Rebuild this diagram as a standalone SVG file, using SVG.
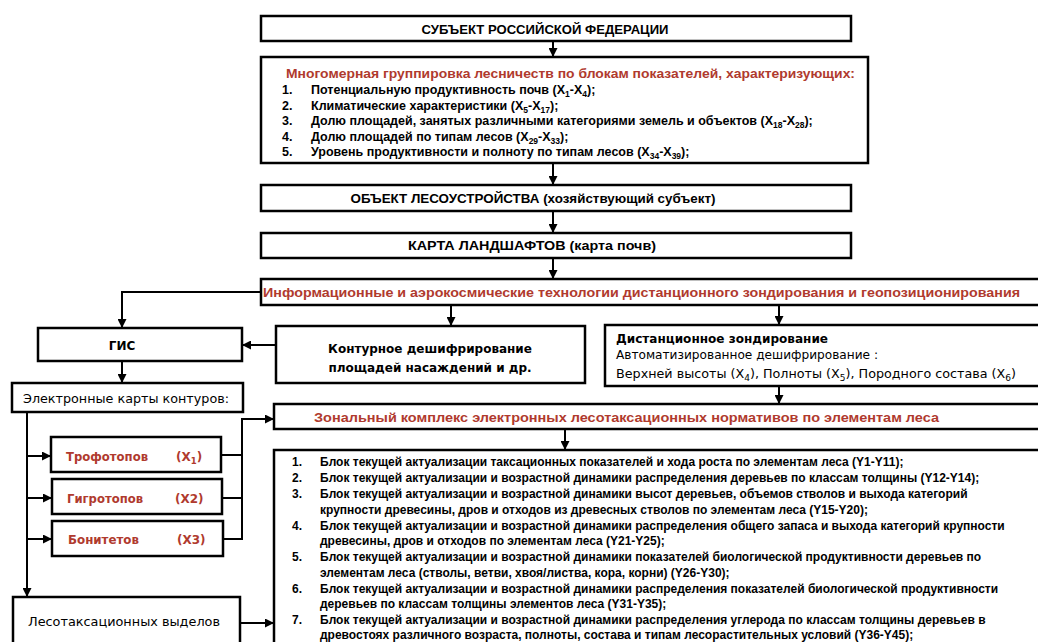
<svg xmlns="http://www.w3.org/2000/svg" width="1038" height="642" viewBox="0 0 1038 642">
<style>
.box{fill:#fff;stroke:#000;stroke-width:2.5}
.ln{fill:none;stroke:#000;stroke-width:2;marker-end:url(#ah)}
.pl{fill:none;stroke:#000;stroke-width:2}
.hb{font-family:"Liberation Sans",Arial,sans-serif;font-weight:bold;fill:#000}
.v{font-family:"DejaVu Sans",Verdana,sans-serif;fill:#000}
.vb{font-family:"DejaVu Sans",Verdana,sans-serif;font-weight:bold;fill:#000}
.it{font-family:"Liberation Sans",Arial,sans-serif;font-weight:bold;font-size:12.5px;fill:#000}
.yl{font-family:"Liberation Sans",Arial,sans-serif;font-weight:bold;font-size:12px;fill:#000}
text.red{fill:#b03a2e}
</style>
<defs>
<marker id="ah" viewBox="0 0 10 10" refX="10" refY="5" markerWidth="9" markerHeight="9" markerUnits="userSpaceOnUse" orient="auto"><path d="M0,0 L10,5 L0,10 z" fill="#000"/></marker>
</defs>
<rect width="1038" height="642" fill="#fff"/>

<g id="subject">
<rect class="box" x="261" y="16" width="590" height="25"/>
<text class="hb" x="545" y="34" font-size="13" text-anchor="middle" textLength="247" lengthAdjust="spacingAndGlyphs">СУБЪЕКТ РОССИЙСКОЙ ФЕДЕРАЦИИ</text>
</g>

<g id="grouping">
<rect class="box" x="261" y="57" width="607" height="106"/>
<text class="hb red" x="286" y="78" font-size="13.5" textLength="569" lengthAdjust="spacingAndGlyphs">Многомерная группировка лесничеств по блокам показателей, характеризующих:</text>
<text class="it" x="282" y="94">1.</text>
<text class="it" x="311" y="94">Потенциальную продуктивность почв (X<tspan dy="3" font-size="8.5">1</tspan><tspan dy="-3">-X</tspan><tspan dy="3" font-size="8.5">4</tspan><tspan dy="-3">);</tspan></text>
<text class="it" x="282" y="109.5">2.</text>
<text class="it" x="311" y="109.5">Климатические характеристики (X<tspan dy="3" font-size="8.5">5</tspan><tspan dy="-3">-X</tspan><tspan dy="3" font-size="8.5">17</tspan><tspan dy="-3">);</tspan></text>
<text class="it" x="282" y="125">3.</text>
<text class="it" x="311" y="125">Долю площадей, занятых различными категориями земель и объектов (X<tspan dy="3" font-size="8.5">18</tspan><tspan dy="-3">-X</tspan><tspan dy="3" font-size="8.5">28</tspan><tspan dy="-3">);</tspan></text>
<text class="it" x="282" y="140.5">4.</text>
<text class="it" x="311" y="140.5">Долю площадей по типам лесов (X<tspan dy="3" font-size="8.5">29</tspan><tspan dy="-3">-X</tspan><tspan dy="3" font-size="8.5">33</tspan><tspan dy="-3">);</tspan></text>
<text class="it" x="282" y="156">5.</text>
<text class="it" x="311" y="156">Уровень продуктивности и полноту по типам лесов (X<tspan dy="3" font-size="8.5">34</tspan><tspan dy="-3">-X</tspan><tspan dy="3" font-size="8.5">39</tspan><tspan dy="-3">);</tspan></text>
</g>

<g id="object">
<rect class="box" x="261" y="185" width="590" height="26"/>
<text class="hb" x="533" y="203" font-size="13" text-anchor="middle" textLength="365" lengthAdjust="spacingAndGlyphs">ОБЪЕКТ ЛЕСОУСТРОЙСТВА (хозяйствующий субъект)</text>
</g>

<g id="landscape">
<rect class="box" x="261" y="233" width="590" height="25"/>
<text class="hb" x="532" y="250" font-size="13" text-anchor="middle" textLength="248" lengthAdjust="spacingAndGlyphs">КАРТА ЛАНДШАФТОВ (карта почв)</text>
</g>

<g id="info">
<rect class="box" x="261" y="279" width="790" height="26"/>
<text class="hb red" x="263" y="297" font-size="13.5" textLength="757" lengthAdjust="spacingAndGlyphs">Информационные и аэрокосмические технологии дистанционного зондирования и геопозиционирования</text>
</g>

<g id="gis">
<rect class="box" x="38" y="328" width="204" height="33"/>
<text class="vb" x="122" y="349.5" font-size="12" text-anchor="middle">ГИС</text>
</g>

<g id="contour">
<rect class="box" x="276" y="326" width="309" height="57"/>
<text class="vb" x="430" y="353" font-size="12" text-anchor="middle">Контурное дешифрирование</text>
<text class="vb" x="430" y="372" font-size="12" text-anchor="middle">площадей насаждений и др.</text>
</g>

<g id="remote">
<rect class="box" x="605" y="325" width="440" height="61"/>
<text class="vb" x="616" y="342.5" font-size="12" textLength="212" lengthAdjust="spacingAndGlyphs">Дистанционное зондирование</text>
<text class="v" x="616" y="359" font-size="12" textLength="262" lengthAdjust="spacingAndGlyphs">Автоматизированное дешифрирование :</text>
<text class="v" x="616" y="377.5" font-size="12" textLength="400" lengthAdjust="spacingAndGlyphs">Верхней высоты (X<tspan dy="3" font-size="8.5">4</tspan><tspan dy="-3">), Полноты (X</tspan><tspan dy="3" font-size="8.5">5</tspan><tspan dy="-3">), Породного состава (X</tspan><tspan dy="3" font-size="8.5">6</tspan><tspan dy="-3">)</tspan></text>
</g>

<g id="emaps">
<rect class="box" x="12" y="383" width="231" height="29"/>
<text class="v" x="23" y="403" font-size="12" textLength="206" lengthAdjust="spacingAndGlyphs">Электронные карты контуров:</text>
</g>

<g id="trophotopes">
<rect class="box" x="51" y="437" width="170" height="35"/>
<text class="vb red" x="66" y="461" font-size="12" textLength="82" lengthAdjust="spacingAndGlyphs">Трофотопов</text>
<text class="vb red" x="176" y="461" font-size="12">(X<tspan dy="3" font-size="8.5">1</tspan><tspan dy="-3">)</tspan></text>
</g>

<g id="hygrotopes">
<rect class="box" x="52" y="479" width="170" height="35"/>
<text class="vb red" x="67" y="502.5" font-size="12" textLength="76" lengthAdjust="spacingAndGlyphs">Гигротопов</text>
<text class="vb red" x="175" y="502.5" font-size="12">(X2)</text>
</g>

<g id="bonitets">
<rect class="box" x="52" y="521" width="171" height="35"/>
<text class="vb red" x="68" y="543.5" font-size="12" textLength="71" lengthAdjust="spacingAndGlyphs">Бонитетов</text>
<text class="vb red" x="177" y="543.5" font-size="12">(X3)</text>
</g>

<g id="stands">
<rect class="box" x="13" y="597" width="227" height="60"/>
<text class="v" x="28" y="626" font-size="12.5" textLength="192" lengthAdjust="spacingAndGlyphs">Лесотаксационных выделов</text>
</g>

<g id="zonal">
<rect class="box" x="274" y="404" width="770" height="25"/>
<text class="hb red" x="314" y="421.5" font-size="13.5" textLength="625" lengthAdjust="spacingAndGlyphs">Зональный комплекс электронных лесотаксационных нормативов по элементам леса</text>
</g>

<g id="blocks">
<rect class="box" x="274" y="450" width="770" height="210"/>
<text class="yl" x="292" y="466">1.</text>
<text class="yl" x="320" y="466">Блок текущей актуализации таксационных показателей и хода роста по элементам леса (Y1-Y11);</text>
<text class="yl" x="292" y="482">2.</text>
<text class="yl" x="320" y="482">Блок текущей актуализации и возрастной динамики распределения деревьев по классам толщины (Y12-Y14);</text>
<text class="yl" x="292" y="498">3.</text>
<text class="yl" x="320" y="498">Блок текущей актуализации и возрастной динамики высот деревьев, объемов стволов и выхода категорий</text>
<text class="yl" x="320" y="514">крупности древесины, дров и отходов из древесных стволов по элементам леса (Y15-Y20);</text>
<text class="yl" x="292" y="529.5">4.</text>
<text class="yl" x="320" y="529.5">Блок текущей актуализации и возрастной динамики распределения общего запаса и выхода категорий крупности</text>
<text class="yl" x="320" y="545">древесины, дров и отходов по элементам леса (Y21-Y25);</text>
<text class="yl" x="292" y="561">5.</text>
<text class="yl" x="320" y="561">Блок текущей актуализации и возрастной динамики показателей биологической продуктивности деревьев по</text>
<text class="yl" x="320" y="576.5">элементам леса (стволы, ветви, хвоя/листва, кора, корни) (Y26-Y30);</text>
<text class="yl" x="292" y="592.5">6.</text>
<text class="yl" x="320" y="592.5">Блок текущей актуализации и возрастной динамики распределения показателей биологической продуктивности</text>
<text class="yl" x="320" y="608">деревьев по классам толщины элементов леса (Y31-Y35);</text>
<text class="yl" x="292" y="623.5">7.</text>
<text class="yl" x="320" y="623.5">Блок текущей актуализации и возрастной динамики распределения углерода по классам толщины деревьев в</text>
<text class="yl" x="320" y="639">древостоях различного возраста, полноты, состава и типам лесорастительных условий (Y36-Y45);</text>
</g>

<g id="connectors">
<path class="ln" d="M553,41 V57"/>
<path class="ln" d="M553,163 V185"/>
<path class="ln" d="M553,211 V233"/>
<path class="ln" d="M553,258 V279"/>
<path class="ln" d="M261,292 H122 V328"/>
<path class="ln" d="M451,305 V326"/>
<path class="ln" d="M779,305 V325"/>
<path class="ln" d="M276,345 H242"/>
<path class="ln" d="M122,361 V383"/>
<path class="ln" d="M779,386 V404"/>
<path class="ln" d="M565,429 V450"/>
<path class="ln" d="M27,412 V597"/>
<path class="ln" d="M27,456 H51"/>
<path class="ln" d="M27,498 H52"/>
<path class="ln" d="M27,539 H52"/>
<path class="pl" d="M221,455 H242"/>
<path class="pl" d="M222,498 H242"/>
<path class="ln" d="M223,539 H242 V419 H274"/>
<path class="ln" d="M240,623 H274"/>
</g>
</svg>
